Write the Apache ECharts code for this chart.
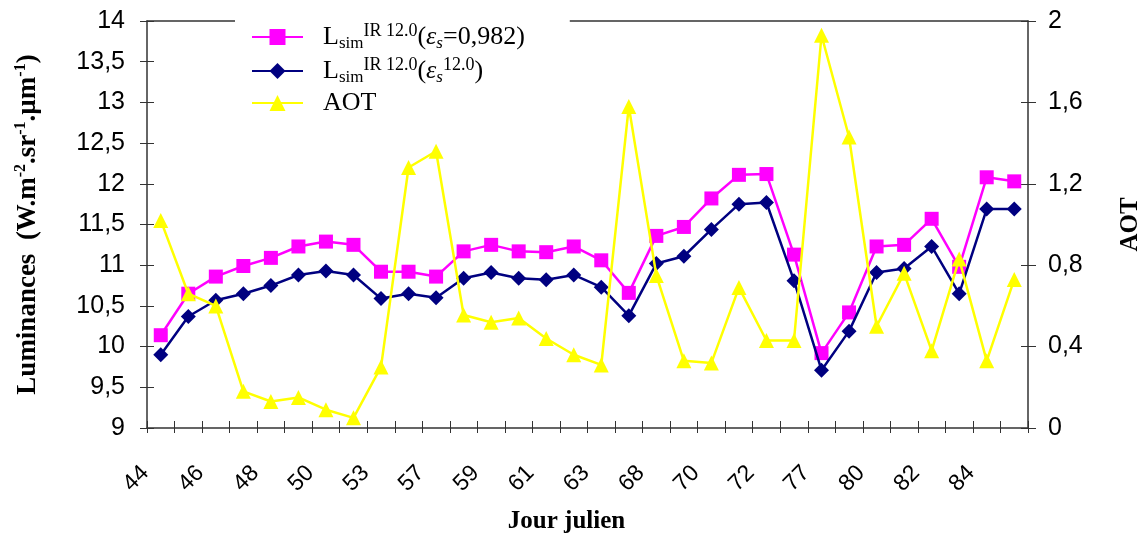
<!DOCTYPE html>
<html>
<head>
<meta charset="utf-8">
<script src="https://cdn.jsdelivr.net/npm/echarts@6/dist/echarts.min.js"></script>
<style>
  html, body { margin: 0; padding: 0; background: #fff; }
  #main { width: 1145px; height: 533px; }
</style>
</head>
<body>
<div id="main"></div>
<script>
// jours juliens (one label out of two shown)
var days = ['44', '45', '46', '47', '48', '49', '50', '51', '53', '56', '57', '58', '59', '60', '61', '62',
  '63', '65', '68', '69', '70', '71', '72', '75', '77', '78', '80', '81', '82', '83', '84', '85'];

// Lsim IR 12.0 (eps = 0,982)
var lsimFixed = [10.14, 10.65, 10.86, 10.99, 11.09, 11.23, 11.29, 11.25, 10.92, 10.92, 10.86, 11.17, 11.25, 11.17, 11.16, 11.23,
  11.06, 10.66, 11.36, 11.47, 11.82, 12.11, 12.12, 11.13, 9.92, 10.42, 11.23, 11.25, 11.57, 10.98, 12.08, 12.03];

// Lsim IR 12.0 (eps 12.0)
var lsimEps = [9.90, 10.37, 10.57, 10.65, 10.75, 10.88, 10.93, 10.88, 10.59, 10.65, 10.60, 10.84, 10.91, 10.84, 10.82, 10.88,
  10.73, 10.38, 11.02, 11.11, 11.44, 11.75, 11.77, 10.81, 9.71, 10.19, 10.91, 10.96, 11.23, 10.65, 11.69, 11.69];

// AOT (right axis)
var aot = [1.02, 0.66, 0.60, 0.18, 0.13, 0.15, 0.09, 0.05, 0.30, 1.28, 1.36, 0.555, 0.52, 0.54, 0.44, 0.36,
  0.31, 1.58, 0.75, 0.33, 0.32, 0.69, 0.43, 0.43, 1.93, 1.43, 0.50, 0.76, 0.38, 0.83, 0.33, 0.73];

var chart = echarts.init(document.getElementById('main'));

var axisCol = '#333';
var sans = 'Liberation Sans';
var serif = 'Liberation Serif';
function comma(v) { return String(Math.round(v * 10) / 10).replace('.', ','); }

var legendRich = {
  b: { fontFamily: serif, fontSize: 26, color: '#000', lineHeight: 30 },
  i: { fontFamily: serif, fontSize: 26, fontStyle: 'italic', color: '#000', lineHeight: 30 },
  sub: { fontFamily: serif, fontSize: 17, color: '#000', lineHeight: 14, verticalAlign: 'bottom' },
  isub: { fontFamily: serif, fontSize: 17, fontStyle: 'italic', color: '#000', lineHeight: 14, verticalAlign: 'bottom' },
  sup: { fontFamily: serif, fontSize: 18, color: '#000', lineHeight: 14, verticalAlign: 'top' }
};
var legendText = {
  fixed: '{b|L}{sub|sim}{sup|IR 12.0}{b|(}{i|ε}{isub|s}{b|=0,982)}',
  eps: '{b|L}{sub|sim}{sup|IR 12.0}{b|(}{i|ε}{isub|s}{sup|12.0}{b|)}',
  aot: '{b|AOT}'
};

var option = {
  backgroundColor: '#fff',
  animation: false,
  grid: { left: 147, right: 117, top: 21, bottom: 105, outerBoundsMode: 'none', containLabel: false },
  legend: {
    orient: 'vertical',
    left: 235,
    top: 12,
    padding: [10, 45, 4, 16],
    backgroundColor: '#fff',
    itemWidth: 51,
    itemHeight: 20,
    itemGap: 4,
    data: ['fixed', 'eps', 'aot'],
    formatter: function (n) { return legendText[n]; },
    textStyle: { rich: legendRich, padding: [0, 0, 0, 15] }
  },
  xAxis: [{
    type: 'category',
    data: days,
    position: 'bottom',
    boundaryGap: true,
    axisLine: { show: true, lineStyle: { color: axisCol, width: 1.5 } },
    axisTick: { show: true, inside: true, length: 7, interval: 0, lineStyle: { color: axisCol } },
    axisLabel: { interval: 1, rotate: 45, margin: 26, padding: [0, 22, 0, 0], color: '#000', fontFamily: sans, fontSize: 23 },
    name: 'Jour julien',
    nameLocation: 'middle',
    nameGap: 81,
    nameTextStyle: { fontFamily: serif, fontWeight: 'bold', fontSize: 25, color: '#000', padding: [0, 42, 0, 0] }
  }, {
    type: 'category',
    data: days,
    position: 'bottom',
    boundaryGap: true,
    axisLine: { show: false },
    axisTick: { show: true, length: 5, interval: 0, lineStyle: { color: axisCol } },
    axisLabel: { show: false }
  }, {
    type: 'category',
    data: days,
    position: 'top',
    axisLine: { show: true, lineStyle: { color: axisCol, width: 1.5 } },
    axisTick: { show: false },
    axisLabel: { show: false }
  }],
  yAxis: [{
    type: 'value',
    position: 'left',
    min: 9, max: 14, interval: 0.5,
    splitLine: { show: false },
    axisLine: { show: true, lineStyle: { color: axisCol, width: 1.5 } },
    axisTick: { show: true, length: 7, lineStyle: { color: axisCol } },
    axisLabel: { margin: 22, color: '#000', fontFamily: sans, fontSize: 25, formatter: comma },
    name: '{b|Luminances  (W.m}{sup|-2}{b|.sr}{sup|-1}{b|.µm}{sup|-1}{b|)}',
    nameLocation: 'middle',
    nameRotate: 90,
    nameGap: 104,
    nameTextStyle: {
      rich: {
        b: { fontFamily: serif, fontWeight: 'bold', fontSize: 27, color: '#000', lineHeight: 30 },
        sup: { fontFamily: serif, fontWeight: 'bold', fontSize: 16, color: '#000', lineHeight: 14, verticalAlign: 'top' }
      }
    }
  }, {
    type: 'value',
    position: 'right',
    min: 0, max: 2, interval: 0.4,
    splitLine: { show: false },
    axisLine: { show: true, lineStyle: { color: axisCol, width: 1.5 } },
    axisTick: { show: true, length: 8, lineStyle: { color: axisCol } },
    axisLabel: { margin: 20, color: '#000', fontFamily: sans, fontSize: 25, formatter: comma },
    name: 'AOT',
    nameLocation: 'middle',
    nameRotate: 90,
    nameGap: 90,
    nameTextStyle: { fontFamily: serif, fontWeight: 'bold', fontSize: 25, color: '#000' }
  }, {
    type: 'value',
    position: 'left',
    min: 9, max: 14, interval: 0.5,
    splitLine: { show: false },
    axisLine: { show: false },
    axisTick: { show: true, inside: true, length: 7, lineStyle: { color: axisCol } },
    axisLabel: { show: false }
  }, {
    type: 'value',
    position: 'right',
    min: 0, max: 2, interval: 0.4,
    splitLine: { show: false },
    axisLine: { show: false },
    axisTick: { show: true, inside: true, length: 7, lineStyle: { color: axisCol } },
    axisLabel: { show: false }
  }],
  series: [{
    name: 'fixed',
    type: 'line',
    data: lsimFixed,
    xAxisIndex: 0,
    yAxisIndex: 0,
    symbol: 'rect',
    symbolSize: 14,
    lineStyle: { color: '#FF00FF', width: 2.5 },
    itemStyle: { color: '#FF00FF' },
    z: 3
  }, {
    name: 'eps',
    type: 'line',
    data: lsimEps,
    xAxisIndex: 0,
    yAxisIndex: 0,
    symbol: 'diamond',
    symbolSize: 15,
    lineStyle: { color: '#000080', width: 2.5 },
    itemStyle: { color: '#000080' },
    z: 4
  }, {
    name: 'aot',
    type: 'line',
    data: aot,
    xAxisIndex: 0,
    yAxisIndex: 1,
    symbol: 'triangle',
    symbolSize: 15,
    lineStyle: { color: '#FFFF00', width: 2.5 },
    itemStyle: { color: '#FFFF00' },
    z: 5
  }]
};

chart.setOption(option);
</script>
</body>
</html>
